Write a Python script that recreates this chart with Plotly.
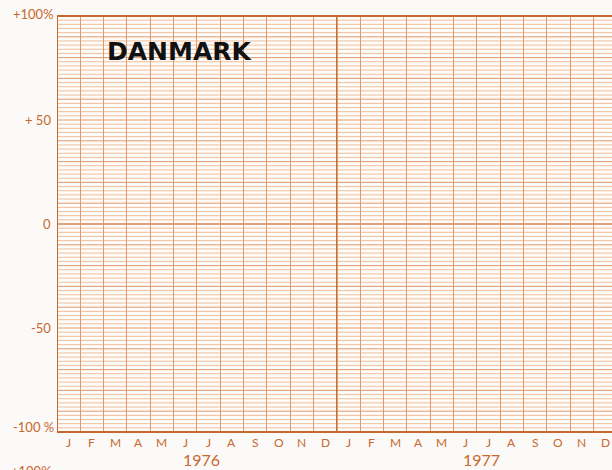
import plotly.graph_objects as go

# tick labels and categories
months = ["J", "F", "M", "A", "M", "J", "J", "A", "S", "O", "N", "D"]
years = ["1976", "1977"]
y_ticks = [100, 50, 0, -50, -100]
y_labels = ["+100%", "+ 50", "0", "-50", "-100 %"]
title_text = "DANMARK"

ORANGE = "#c8682e"
GRID_MAJOR = "#de9a6a"
GRID_MINOR = "#efbf9b"
LABEL_FONT = "Lato"

fig = go.Figure()

# empty series, the sheet is a blank chart form
fig.add_trace(go.Scatter(x=[], y=[], mode="lines", showlegend=False))

fig.update_layout(
    width=612, height=470,
    margin=dict(l=57, r=0, t=16, b=38),
    paper_bgcolor="#fbfaf8",
    plot_bgcolor="#fdfcfa",
    showlegend=False,
    xaxis=dict(range=[0, 23.8], tick0=0, dtick=1, showgrid=True,
               gridcolor=GRID_MAJOR, gridwidth=1, showticklabels=False,
               zeroline=False, showline=False, ticks=""),
    yaxis=dict(range=[-100, 100], showgrid=False, showticklabels=False,
               zeroline=False, showline=False, ticks=""),
)

# horizontal rulings: fine every 2 %, heavier every 10 %
for v in range(-98, 100, 2):
    if v % 10 == 0:
        col, w = GRID_MAJOR, 1
    else:
        col, w = GRID_MINOR, 1
    if v == 0:
        col, w = "#d5844f", 1.5
    fig.add_shape(type="line", xref="paper", yref="y", x0=0, x1=1, y0=v, y1=v,
                  line=dict(color=col, width=w), layer="below")

# frame and year separators
for i in range(len(years) + 1):
    fig.add_shape(type="line", xref="x", yref="paper", x0=i * 12, x1=i * 12,
                  y0=0, y1=1, line=dict(color=ORANGE, width=2 if i == 0 else 1.5))
for yv in (0, 1):
    fig.add_shape(type="line", xref="paper", yref="paper", x0=0, x1=1,
                  y0=yv, y1=yv, line=dict(color=ORANGE, width=2))

# y labels
for v, t in zip(y_ticks, y_labels):
    shift = 2 if v == 100 else (5 if v == -100 else 0)
    fig.add_annotation(x=0, xref="paper", y=v, yref="y", text=t, showarrow=False,
                       xanchor="right", yanchor="middle",
                       xshift=-1 if "%" in t else -4, yshift=shift,
                       font=dict(family=LABEL_FONT, size=13, color=ORANGE))

# month letters and year labels
for yi, yr in enumerate(years):
    for mi, m in enumerate(months):
        fig.add_annotation(x=yi * 12 + mi + 0.5, xref="x", y=0, yref="paper", text=m,
                           showarrow=False, yanchor="top", yshift=-1,
                           font=dict(family=LABEL_FONT, size=12, color=ORANGE))
    fig.add_annotation(x=yi * 12 + 6.2, xref="x", y=0, yref="paper", text=yr,
                       showarrow=False, yanchor="top", yshift=-16,
                       font=dict(family=LABEL_FONT, size=16, color=ORANGE))

# next sheet's label, cut off at the bottom edge
fig.add_annotation(x=0, xref="paper", y=0, yref="paper", text="+100%", showarrow=False,
                   xanchor="right", yanchor="top", xshift=-3, yshift=-29,
                   font=dict(family=LABEL_FONT, size=13, color=ORANGE))

fig.add_annotation(x=2.05, xref="x", y=0.915, yref="paper", text="<b>" + title_text + "</b>",
                   showarrow=False, xanchor="left", yanchor="middle",
                   font=dict(family="DejaVu Sans", size=25, color="#111111"))

# drop the page's default body margin so the figure fills the window
fig.write_html("out.html", config={"displayModeBar": False},
               post_script="document.body.style.margin = '0';")
